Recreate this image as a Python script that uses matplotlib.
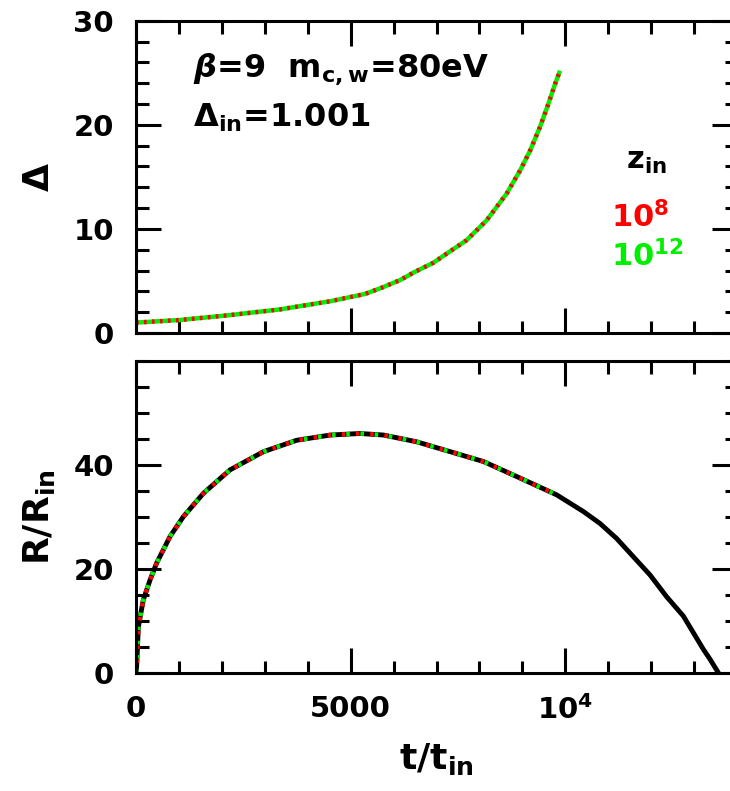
import matplotlib
matplotlib.use("Agg")
import matplotlib.pyplot as plt

# values
t_delta = [0, 1026, 2190, 3357, 4522, 5334, 5723, 6150, 6500, 6926, 7300, 7703,
           8169, 8635, 8945, 9178, 9411, 9605, 9760, 9877]
delta = [1.001, 1.25, 1.72, 2.27, 3.05, 3.75, 4.35, 5.08, 5.88, 6.75, 7.8, 8.92,
         10.83, 13.4, 15.6, 17.5, 19.8, 22.0, 23.9, 25.2]

t_R = [0, 15, 55, 170, 326, 482, 793, 1103, 1570, 2190, 2968, 3745, 4522, 5221,
       5765, 6540, 7319, 8096, 8874, 9799, 10420, 10808, 11197, 11585, 11973,
       12361, 12749, 12982, 13215, 13370, 13564]
R = [0, 1.2, 8.8, 14.0, 17.8, 21.1, 26.2, 30.0, 34.5, 39.0, 42.5, 44.7, 45.7, 46.0,
     45.7, 44.4, 42.5, 40.6, 37.7, 34.2, 31.0, 28.7, 25.8, 22.3, 18.8,
     14.6, 10.9, 7.7, 4.5, 2.6, 0.0]
n_z = 20  # the z_in runs stop at t ~ 9.8e3

z_labels = ["$10^{8}$", "$10^{12}$"]
z_colors = ["#ff0000", "#00ee00"]

plt.rcParams['font.family'] = ['DejaVu Sans']
plt.rcParams['font.weight'] = 'bold'
plt.rcParams['axes.labelweight'] = 'bold'
plt.rcParams['mathtext.fontset'] = 'custom'
plt.rcParams['mathtext.rm'] = 'DejaVu Sans:bold'
plt.rcParams['mathtext.it'] = 'DejaVu Sans:italic:bold'
plt.rcParams['mathtext.bf'] = 'DejaVu Sans:bold'
plt.rcParams['mathtext.default'] = 'rm'

fig = plt.figure(figsize=(7.3, 7.91), dpi=100)
ax1 = fig.add_axes([0.1863, 0.579, 0.8233, 0.3948])
ax2 = fig.add_axes([0.1863, 0.1496, 0.8233, 0.3944])

for ax in (ax1, ax2):
    ax.set_xlim(0, 14000)
    ax.set_xticks([0, 5000, 10000])
    ax.set_xticks(range(0, 14001, 1000), minor=True)
    ax.tick_params(which='both', direction='in', top=True, right=True, width=2.2,
                   labelsize=21, pad=16)
    ax.tick_params(which='major', length=18)
    ax.tick_params(which='minor', length=9)
    for s in ax.spines.values():
        s.set_linewidth(2.2)

# top panel
ax1.set_ylim(0, 30)
ax1.set_yticks([0, 10, 20, 30])
ax1.set_yticks(range(0, 31, 2), minor=True)
ax1.tick_params(labelbottom=False)
ax1.plot(t_delta, delta, color=z_colors[1], lw=3.2, solid_capstyle='butt',
         solid_joinstyle='round')
ax1.plot(t_delta, delta, color=z_colors[0], lw=3.2, ls=(0, (0.6, 1.2)))
ax1.set_ylabel(r"$\Delta$", fontsize=26, labelpad=12)
ax1.text(0.095, 0.845, r"$\it{\beta}$=9  m$_{\rm c,w}$=80eV", transform=ax1.transAxes,
         fontsize=23, va='center')
ax1.text(0.095, 0.69, r"$\Delta_{\rm in}$=1.001", transform=ax1.transAxes,
         fontsize=23, va='center')
ax1.text(0.85, 0.55, r"z$_{\rm in}$", transform=ax1.transAxes, fontsize=22,
         ha='center', va='center')
for i, (lab, c) in enumerate(zip(z_labels, z_colors)):
    ax1.text(0.79, 0.37 - i * 0.125, lab, transform=ax1.transAxes, fontsize=22,
             color=c, ha='left', va='center')

# bottom panel
ax2.set_ylim(0, 60)
ax2.set_yticks([0, 20, 40])
ax2.set_yticks(range(0, 61, 5), minor=True)
ax2.set_xticklabels(["0", "5000", "$10^{4}$"])
ax2.plot(t_R, R, color='black', lw=3.5, solid_joinstyle='round')
ax2.plot(t_R[:n_z], R[:n_z], color=z_colors[1], lw=3.2, ls=(0, (0.8, 2.4)))
ax2.plot(t_R[:n_z], R[:n_z], color=z_colors[0], lw=3.2, ls=(1.0, (0.8, 2.4)))
ax2.set_ylabel(r"R/R$_{\rm in}$", fontsize=26, labelpad=12)
ax2.set_xlabel(r"t/t$_{\rm in}$", fontsize=26, labelpad=12)

fig.savefig("out.png", dpi=100)
